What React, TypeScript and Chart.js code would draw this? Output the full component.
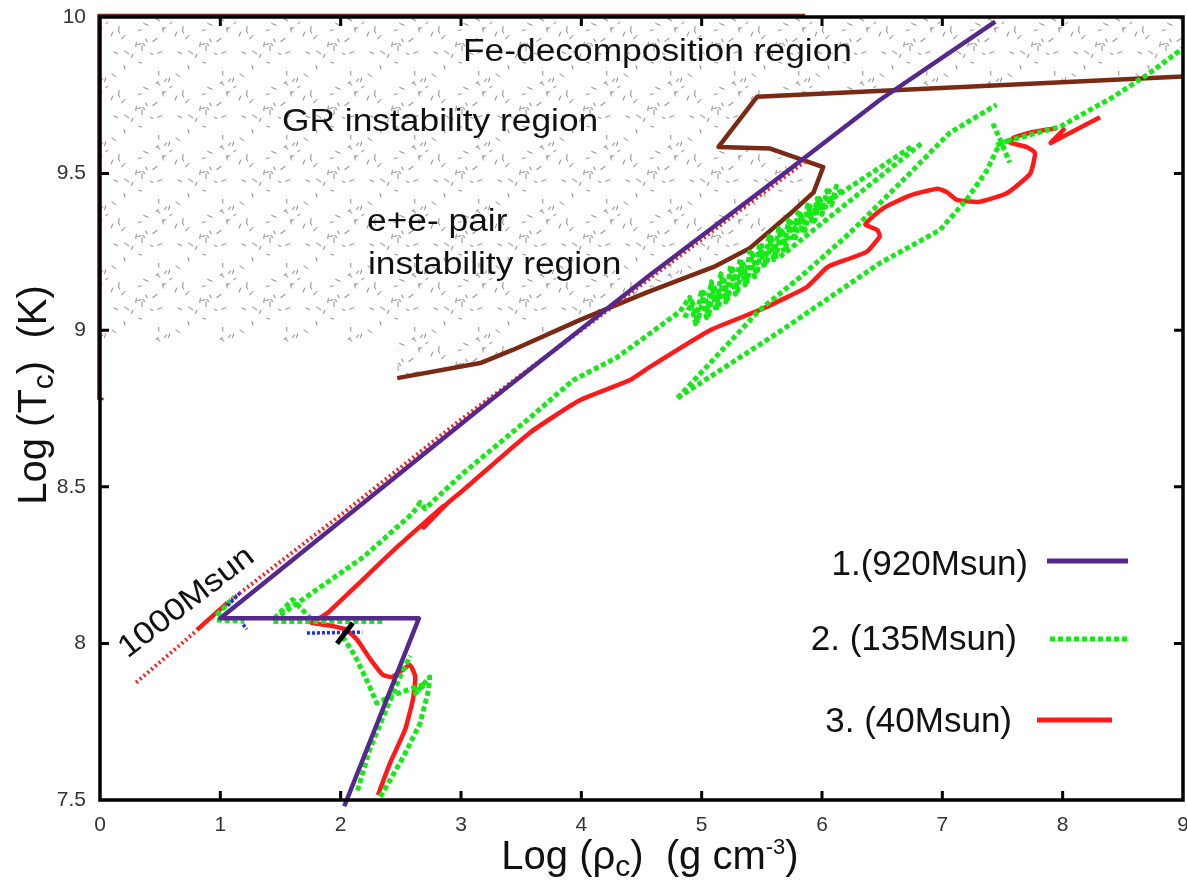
import { useEffect, useRef } from 'react';
import { Chart, registerables } from 'chart.js';

Chart.register(...registerables);

type Pt = [number, number];

// ---------------- axes ----------------
const X_MIN = 0;
const X_MAX = 9;
const Y_MIN = 7.5;
const Y_MAX = 10;
const X_TICKS = [0, 1, 2, 3, 4, 5, 6, 7, 8, 9];
const Y_TICKS = [7.5, 8, 8.5, 9, 9.5, 10];

const LEGEND_LABELS = ['1.(920Msun)', '2. (135Msun)', '3. (40Msun)'];
const REGION_LABELS = ['Fe-decomposition region', 'GR instability region', 'e+e- pair', 'instability region'];
const TRACK_LABEL = '1000Msun';

// ---------------- instability region boundary (brown) ----------------
const BOUNDARY: Pt[] = [
  [2.47, 8.847], [3.16, 8.895], [3.43, 8.937], [3.99, 9.033], [4.54, 9.12], [5.1, 9.202],
  [5.4, 9.262], [5.73, 9.37], [5.93, 9.44], [6.01, 9.521], [5.79, 9.55], [5.57, 9.58],
  [5.14, 9.585], [5.46, 9.745], [9.0, 9.81],
];
const BOUNDARY_EDGE: Pt[] = [[0.03, 8.78], [-0.013, 8.78], [-0.013, 10.006], [5.86, 10.006]];

// shaded (stippled) region polygon
const SHADED_REGION: Pt[] = [
  [0, 10], [9, 10], [9, 9.81], [5.46, 9.745], [5.14, 9.585], [5.57, 9.58], [5.79, 9.55],
  [6.01, 9.521], [5.93, 9.44], [5.73, 9.37], [5.4, 9.262], [5.1, 9.202], [4.54, 9.12],
  [3.99, 9.033], [3.43, 8.937], [3.16, 8.895], [2.47, 8.847], [2.47, 8.962], [0, 8.962], [0, 10],
];

// ---------------- 1. 920 Msun (purple) ----------------
const TRACK_920: Pt[] = [
  [2.03, 7.48], [2.65, 8.08], [1.0, 8.08], [3.24, 8.775], [4.57, 9.176], [5.65, 9.49],
  [6.48, 9.735], [7.44, 9.985],
];

// ---------------- 1000 Msun (red dotted) ----------------
const TRACK_1000_LOW: Pt[] = [[0.3, 7.875], [0.8, 8.04]];
const TRACK_1000_HIGH: Pt[] = [[1.06, 8.13], [2.0, 8.41], [3.0, 8.715], [4.0, 9.0], [5.0, 9.29], [5.88, 9.545]];

// ---------------- 3. 40 Msun (red) ----------------
const TRACK_40_MAIN: Pt[] = [
  [2.31, 7.516], [2.41, 7.618], [2.535, 7.724], [2.6, 7.82], [2.62, 7.893], [2.575, 7.931],
  [2.43, 7.893], [2.35, 7.9], [2.24, 7.953], [2.14, 8.01], [2.05, 8.043], [1.9, 8.058],
  [1.76, 8.065], [1.82, 8.08], [1.89, 8.097], [2.47, 8.308], [2.86, 8.44], [2.69, 8.37],
  [2.88, 8.445], [3.02, 8.49], [3.57, 8.672], [3.99, 8.777], [4.4, 8.84], [4.57, 8.883],
  [5.07, 9.0], [5.48, 9.064], [5.68, 9.1], [5.875, 9.138], [6.04, 9.2], [6.12, 9.214],
  [6.37, 9.25], [6.48, 9.3], [6.46, 9.32], [6.36, 9.338], [6.51, 9.39], [6.73, 9.43],
  [6.96, 9.452], [7.04, 9.44], [7.12, 9.416], [7.31, 9.41], [7.54, 9.438], [7.73, 9.5],
  [7.77, 9.566], [7.7, 9.585], [7.56, 9.6], [7.59, 9.614], [7.75, 9.633], [7.95, 9.645],
];
const TRACK_40_START: Pt[] = [[0.806, 8.043], [1.06, 8.13]];
const TRACK_40_TIP: Pt[] = [[8.31, 9.68], [7.9, 9.598], [8.02, 9.645]];

// ---------------- 2. 135 Msun (green dotted) ----------------
const TRACK_135_INNER: Pt[] = [[2.14, 7.53], [2.24, 7.66], [2.38, 7.79], [2.5, 7.9], [2.58, 7.96]];
const TRACK_135_OUTER: Pt[] = [
  [2.33, 7.51], [2.52, 7.637], [2.66, 7.745], [2.73, 7.85], [2.74, 7.893], [2.62, 7.84],
  [2.7, 7.87], [2.47, 7.84], [2.3, 7.81], [2.22, 7.88], [2.12, 7.96], [2.02, 8.02],
];
const TRACK_135_FLAT_A: Pt[] = [[0.97, 8.075], [1.2, 8.07]];
const TRACK_135_FLAT_B: Pt[] = [[1.44, 8.07], [2.35, 8.07]];
const TRACK_135_TRIANGLE: Pt[] = [[1.45, 8.08], [1.6, 8.14], [1.75, 8.08]];
const TRACK_135_KNEE: Pt[] = [[0.97, 8.09], [1.12, 8.15]];
const TRACK_135_MAIN: Pt[] = [
  [1.5, 8.09], [1.72, 8.15], [2.19, 8.276], [2.6, 8.416], [2.66, 8.45], [2.7, 8.43],
  [3.02, 8.544], [3.57, 8.72], [3.93, 8.84], [4.3, 8.914], [4.82, 9.06],
];
const TRACK_135_BAND: Pt[] = [
  [4.82, 9.06], [4.9, 9.105], [4.95, 9.02], [5.0, 9.13], [5.04, 9.04], [5.08, 9.155],
  [5.12, 9.06], [5.16, 9.18], [5.2, 9.09], [5.24, 9.205], [5.28, 9.115], [5.32, 9.23],
  [5.36, 9.145], [5.4, 9.25], [5.44, 9.17], [5.48, 9.275], [5.52, 9.2], [5.56, 9.3],
  [5.6, 9.225], [5.64, 9.325], [5.68, 9.255], [5.72, 9.35], [5.76, 9.285], [5.8, 9.375],
  [5.84, 9.31], [5.88, 9.4], [5.92, 9.34], [5.96, 9.42], [6.0, 9.37], [6.04, 9.445],
  [6.08, 9.4], [6.12, 9.46], [6.17, 9.43],
];
const TRACK_135_BAND2: Pt[] = [
  [4.86, 9.04], [4.92, 9.09], [4.97, 9.03], [5.02, 9.12], [5.06, 9.05], [5.1, 9.145],
  [5.14, 9.07], [5.18, 9.17], [5.22, 9.1], [5.26, 9.195], [5.3, 9.125], [5.34, 9.22],
  [5.38, 9.155], [5.42, 9.245], [5.46, 9.18], [5.5, 9.27], [5.54, 9.21], [5.58, 9.295],
  [5.62, 9.235], [5.66, 9.32], [5.7, 9.265], [5.74, 9.345], [5.78, 9.295], [5.82, 9.37],
  [5.86, 9.32], [5.9, 9.395], [5.94, 9.35], [5.98, 9.42], [6.02, 9.38], [6.06, 9.445],
  [6.1, 9.41],
];
const TRACK_135_UP1: Pt[] = [[5.65, 9.234], [6.84, 9.6]];
const TRACK_135_UP2: Pt[] = [[5.65, 9.31], [6.76, 9.59]];
const TRACK_135_B: Pt[] = [[4.8, 8.784], [5.48, 9.064], [5.82, 9.17], [6.23, 9.31], [6.65, 9.47], [7.06, 9.63], [7.45, 9.72]];
const TRACK_135_A: Pt[] = [
  [4.8, 8.784], [5.65, 8.996], [6.48, 9.214], [6.98, 9.32], [7.2, 9.416], [7.37, 9.51],
  [7.45, 9.575], [7.5, 9.6], [7.98, 9.65], [8.42, 9.745], [8.7, 9.815], [9.0, 9.9],
];
const TRACK_135_STAR_A: Pt[] = [[7.42, 9.66], [7.49, 9.6], [7.56, 9.535]];
const TRACK_135_STAR_B: Pt[] = [[7.45, 9.59], [7.58, 9.61]];

// small extra model pieces
const BLUE_PIECES: Pt[][] = [
  [[1.72, 8.033], [2.18, 8.036]],
  [[1.06, 8.12], [1.16, 8.16]],
  [[1.19, 8.06], [1.22, 8.045]],
];
const BLACK_PIECE: Pt[] = [[1.97, 8.0], [2.1, 8.065]];

// ---------------- styles ----------------
const PURPLE = '#56288e';
const GREEN = '#14ea14';
const RED = '#ff1a1a';
const BROWN = '#7a2a12';
const GREEN_DASH = [5, 3];
const FONT = '"Liberation Sans", Arial, Helvetica, sans-serif';

function makeStipple(): CanvasPattern | string {
  const c = document.createElement('canvas');
  const n = 64;
  c.width = n;
  c.height = n;
  const g = c.getContext('2d');
  if (!g) return '#eee';
  g.fillStyle = '#ffffff';
  g.fillRect(0, 0, n, n);
  g.strokeStyle = '#9a9a9a';
  g.lineWidth = 1.1;
  let s = 987654321;
  const rnd = () => {
    s = (Math.imul(s, 1664525) + 1013904223) >>> 0;
    return s / 4294967296;
  };
  for (let i = 0; i < 28; i++) {
    const x = rnd() * n;
    const y = rnd() * n;
    const ang = rnd() * Math.PI;
    const len = 3.5 + rnd() * 2.5;
    const dx = Math.cos(ang) * len * 0.5;
    const dy = Math.sin(ang) * len * 0.5;
    for (const ox of [-n, 0, n]) {
      for (const oy of [-n, 0, n]) {
        g.beginPath();
        g.moveTo(x - dx + ox, y - dy + oy);
        g.lineTo(x + dx + ox, y + dy + oy);
        g.stroke();
      }
    }
  }
  return g.createPattern(c, 'repeat') || '#eee';
}

const toXY = (pts: Pt[]) => pts.map(([x, y]) => ({ x, y }));

function lineDs(pts: Pt[], color: string, width: number, order: number, dash: number[] = [], clip: any = undefined, tension = 0) {
  const ds: any = {
    data: toXY(pts),
    showLine: true,
    pointRadius: 0,
    pointHoverRadius: 0,
    borderColor: color,
    backgroundColor: color,
    borderWidth: width,
    borderDash: dash,
    borderCapStyle: 'butt',
    borderJoinStyle: 'round',
    tension,
    fill: false,
    order,
  };
  if (clip !== undefined) ds.clip = clip;
  return ds;
}

type Piece = { t: string; s: number; dy: number };

function drawPieces(ctx: CanvasRenderingContext2D, pieces: Piece[], cx: number, baseY: number) {
  let total = 0;
  for (const p of pieces) {
    ctx.font = `${p.s}px ${FONT}`;
    total += ctx.measureText(p.t).width;
  }
  let x = cx - total / 2;
  ctx.textAlign = 'left';
  ctx.textBaseline = 'alphabetic';
  for (const p of pieces) {
    ctx.font = `${p.s}px ${FONT}`;
    ctx.fillText(p.t, x, baseY + p.dy);
    x += ctx.measureText(p.t).width;
  }
}

function drawText(
  ctx: CanvasRenderingContext2D, s: string, px: number, py: number, size: number,
  align: CanvasTextAlign, sx = 1, color = '#111', rot = 0,
) {
  ctx.save();
  ctx.translate(px, py);
  if (rot) ctx.rotate(rot);
  ctx.scale(sx, 1);
  ctx.font = `${size}px ${FONT}`;
  ctx.fillStyle = color;
  ctx.textAlign = align;
  ctx.textBaseline = 'middle';
  ctx.fillText(s, 0, 0);
  ctx.restore();
}

const overlayPlugin = {
  id: 'overlay',
  afterDatasetsDraw(chart: any) {
    const { ctx, chartArea: a, scales } = chart;
    const xs = scales.x;
    const ys = scales.y;
    const P = (px: number, py: number): [number, number] => [a.left + (px - 100), a.top + (py - 17)];
    ctx.save();

    // inward ticks
    ctx.strokeStyle = '#000';
    ctx.lineWidth = 3;
    const tl = 9;
    for (const v of X_TICKS) {
      if (v <= X_MIN || v >= X_MAX) continue;
      const px = xs.getPixelForValue(v);
      ctx.beginPath();
      ctx.moveTo(px, a.bottom); ctx.lineTo(px, a.bottom - tl);
      ctx.moveTo(px, a.top); ctx.lineTo(px, a.top + tl);
      ctx.stroke();
    }
    for (const v of Y_TICKS) {
      if (v <= Y_MIN || v >= Y_MAX) continue;
      const py = ys.getPixelForValue(v);
      ctx.beginPath();
      ctx.moveTo(a.left, py); ctx.lineTo(a.left + tl, py);
      ctx.moveTo(a.right, py); ctx.lineTo(a.right - tl, py);
      ctx.stroke();
    }
    // frame
    ctx.lineWidth = 3.5;
    ctx.strokeRect(a.left, a.top, a.right - a.left, a.bottom - a.top);

    // region labels
    let p = P(463, 52);
    drawText(ctx, REGION_LABELS[0], p[0], p[1], 31, 'left', 1.14);
    p = P(282, 122);
    drawText(ctx, REGION_LABELS[1], p[0], p[1], 31, 'left', 1.14);
    p = P(367, 222);
    drawText(ctx, REGION_LABELS[2], p[0], p[1], 31, 'left', 1.14);
    p = P(368, 265);
    drawText(ctx, REGION_LABELS[3], p[0], p[1], 31, 'left', 1.14);

    // 1000Msun label along the dotted line
    drawText(ctx, TRACK_LABEL, xs.getPixelForValue(0.72), ys.getPixelForValue(8.13), 31, 'center', 1.12, '#111', -0.655);

    // legend
    const legend = [
      { label: LEGEND_LABELS[0], right: 1028, y: 565, x1: 1047, x2: 1128, ly: 561, color: PURPLE, dash: [] as number[] },
      { label: LEGEND_LABELS[1], right: 1017, y: 640, x1: 1050, x2: 1128, ly: 639, color: GREEN, dash: GREEN_DASH },
      { label: LEGEND_LABELS[2], right: 1012, y: 722, x1: 1037, x2: 1112, ly: 720, color: RED, dash: [] as number[] },
    ];
    for (const e of legend) {
      const t = P(e.right, e.y);
      drawText(ctx, e.label, t[0], t[1], 35, 'right', 1.0, '#111');
      const l1 = P(e.x1, e.ly);
      const l2 = P(e.x2, e.ly);
      ctx.save();
      ctx.strokeStyle = e.color;
      ctx.lineWidth = 5;
      ctx.setLineDash(e.dash);
      ctx.beginPath();
      ctx.moveTo(l1[0], l1[1]);
      ctx.lineTo(l2[0], l2[1]);
      ctx.stroke();
      ctx.restore();
    }

    // axis titles
    ctx.fillStyle = '#111';
    const xt = P(650, 869);
    drawPieces(ctx, [
      { t: 'Log (\u03c1', s: 40, dy: 0 },
      { t: 'c', s: 30, dy: 7 },
      { t: ')  (g cm', s: 40, dy: 0 },
      { t: '-3', s: 22, dy: -15 },
      { t: ')', s: 40, dy: 0 },
    ], xt[0], xt[1]);

    ctx.save();
    const yt = P(46, 395);
    ctx.translate(yt[0], yt[1]);
    ctx.rotate(-Math.PI / 2);
    drawPieces(ctx, [
      { t: 'Log (T', s: 40, dy: 0 },
      { t: 'c', s: 30, dy: 7 },
      { t: ')  (K)', s: 40, dy: 0 },
    ], 0, 0);
    ctx.restore();

    ctx.restore();
  },
};

export default function App() {
  const ref = useRef<HTMLCanvasElement>(null);

  useEffect(() => {
    const canvas = ref.current;
    if (!canvas) return;
    const stipple = makeStipple();

    const datasets: any[] = [];
    datasets.push({
      data: toXY(SHADED_REGION),
      showLine: true,
      pointRadius: 0,
      borderWidth: 0,
      borderColor: 'rgba(0,0,0,0)',
      backgroundColor: stipple,
      fill: 'shape',
      tension: 0,
      order: 100,
    });
    datasets.push(lineDs(BOUNDARY, BROWN, 4.5, 90));
    datasets.push(lineDs(BOUNDARY_EDGE, BROWN, 2.5, 91, [], false));

    datasets.push(lineDs(TRACK_1000_LOW, RED, 4, 80, [2, 3]));
    datasets.push(lineDs(TRACK_1000_HIGH, RED, 4, 80, [2, 3]));

    datasets.push(lineDs(TRACK_40_MAIN, RED, 4.5, 60, [], undefined, 0.15));
    datasets.push(lineDs(TRACK_40_START, RED, 4.5, 60));
    datasets.push(lineDs(TRACK_40_TIP, RED, 4.5, 60));

    for (const g of [
      TRACK_135_INNER, TRACK_135_OUTER, TRACK_135_FLAT_A, TRACK_135_FLAT_B, TRACK_135_TRIANGLE,
      TRACK_135_KNEE, TRACK_135_MAIN, TRACK_135_BAND, TRACK_135_BAND2, TRACK_135_UP1, TRACK_135_UP2,
      TRACK_135_B, TRACK_135_A, TRACK_135_STAR_A, TRACK_135_STAR_B,
    ]) {
      datasets.push(lineDs(g, GREEN, 5, 50, GREEN_DASH));
    }

    for (const b of BLUE_PIECES) datasets.push(lineDs(b, '#1a2cff', 3.5, 45, [3, 2]));

    datasets.push(lineDs(TRACK_920, PURPLE, 4.5, 40, [], false));
    datasets.push(lineDs(BLACK_PIECE, '#000000', 5, 30));

    const tickFont = { family: FONT, size: 21 };

    const chart = new Chart(canvas, {
      type: 'scatter',
      data: { datasets },
      plugins: [overlayPlugin],
      options: {
        animation: false,
        responsive: false,
        events: [],
        layout: { padding: { left: 0, right: 4, top: 17, bottom: 0 } },
        plugins: {
          legend: { display: false },
          tooltip: { enabled: false },
        },
        scales: {
          x: {
            type: 'linear',
            min: X_MIN,
            max: X_MAX,
            grid: { display: false, drawTicks: false },
            border: { display: false },
            afterBuildTicks: (s: any) => { s.ticks = X_TICKS.map((v) => ({ value: v })); },
            afterFit: (s: any) => { s.height = 83; s.paddingLeft = 0; s.paddingRight = 0; },
            ticks: {
              font: tickFont,
              color: '#333',
              padding: 13,
              maxRotation: 0,
              autoSkip: false,
              callback: (v: any) => String(v),
            },
          },
          y: {
            type: 'linear',
            min: Y_MIN,
            max: Y_MAX,
            grid: { display: false, drawTicks: false },
            border: { display: false },
            afterBuildTicks: (s: any) => { s.ticks = Y_TICKS.map((v) => ({ value: v })); },
            afterFit: (s: any) => { s.width = 100; s.paddingTop = 0; s.paddingBottom = 0; },
            ticks: {
              font: tickFont,
              color: '#333',
              padding: 14,
              autoSkip: false,
              callback: (v: any) => String(v),
            },
          },
        },
      } as any,
    });
    return () => chart.destroy();
  }, []);

  return (
    <div style={{ position: 'fixed', left: 0, top: 0, width: 1187, height: 883, background: '#fff' }}>
      <canvas ref={ref} width={1187} height={883} style={{ display: 'block', width: 1187, height: 883 }} />
    </div>
  );
}
